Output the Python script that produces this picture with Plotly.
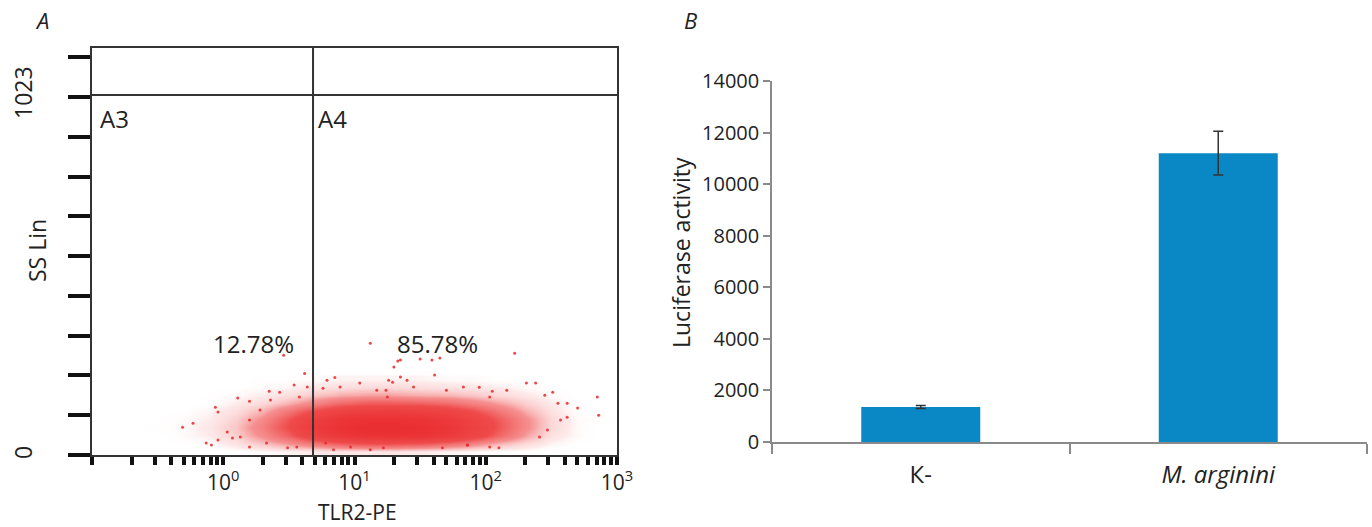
import numpy as np
import plotly.graph_objects as go

W, H = 1372, 527

# ---------------- Panel A data (flow cytometry) ----------------
# density grid: x = log10(TLR2-PE), y = SS Lin
grid_x_log = [-0.5, -0.3, -0.1, 0.1, 0.3, 0.5, 0.7, 0.9, 1.1, 1.3, 1.5, 1.7, 1.9, 2.1, 2.3, 2.5, 2.7, 2.9]
grid_y = [10, 30, 50, 70, 90, 110, 130, 150, 170, 190]
density = [
    [0, 0, 0, 1, 2, 3, 4, 5, 5, 5, 4, 3, 2, 1, 1, 0, 0, 0],
    [0, 1, 2, 6, 12, 20, 30, 40, 45, 45, 42, 35, 25, 15, 8, 3, 1, 0],
    [0, 2, 4, 10, 22, 38, 62, 82, 90, 92, 90, 78, 58, 36, 18, 6, 2, 0],
    [1, 2, 5, 12, 26, 46, 75, 92, 98, 98, 95, 85, 65, 42, 22, 8, 2, 0],
    [0, 2, 4, 10, 22, 42, 68, 85, 92, 92, 88, 78, 60, 40, 22, 8, 2, 1],
    [0, 1, 3, 7, 15, 30, 48, 62, 68, 70, 66, 60, 46, 30, 16, 6, 1, 0],
    [0, 0, 1, 4, 8, 15, 25, 35, 40, 40, 38, 34, 26, 18, 10, 4, 1, 0],
    [0, 0, 1, 2, 4, 7, 12, 16, 18, 18, 16, 15, 12, 8, 5, 2, 0, 0],
    [0, 0, 0, 1, 2, 3, 5, 7, 8, 8, 7, 6, 5, 4, 2, 1, 0, 0],
    [0, 0, 0, 0, 1, 1, 2, 3, 3, 3, 3, 2, 2, 1, 1, 0, 0, 0],
]
# individual events around the dense core (log10 x, SS Lin)
sparse_x_log = [0.46, 0.54, 0.11, -0.31, -0.23, -0.04, -0.04, -0.09, 0.49, 0.07, 1.12,
                2.22, 2.85, 2.86, 2.70, 2.38, 1.29, 1.30, 1.24, 1.35, 1.50, 1.59, 1.65, 1.61,
                2.10, 1.86, 1.33, 1.26, 1.40, 1.12, 0.97, 0.76, -0.06, 0.03, -0.13, 0.62,
                0.35, 0.20, 2.55, 2.62, 2.45, 0.85, 1.95, 2.05,
                0.20, 0.28, 0.36, 0.43, 0.58, 0.64, 0.13, 0.20, 0.33, 0.56,
                2.51, 2.62, 2.57, 2.47, 2.41, 2.31, 2.16, 2.03, 1.83, 1.70, 1.45, 1.35, 1.25,
                1.86, 2.03, 0.79, 0.89, 1.04, 1.17, 0.78, 0.84, 1.22, 1.67]
sparse_y = [251, 176, 143, 70, 80, 108, 38, 25, 18, 43, 281,
            256, 146, 100, 118, 181, 183, 221, 163, 239, 241, 239, 244, 201,
            18, 25, 236, 188, 188, 13, 20, 168, 120, 58, 30, 205,
            160, 135, 130, 95, 150, 195, 170, 160,
            88, 113, 138, 158, 146, 171, 45, 20, 30, 20,
            158, 130, 88, 63, 45, 181, 163, 146, 171, 163, 171, 196, 146,
            25, 20, 188, 171, 181, 163, 30, 13, 18, 18]

gate_x_log = 0.684     # vertical gate (~4.8)
gate_y = 905           # horizontal gate
ss_max = 1023
pct_left, pct_right = "12.78%", "85.78%"
decades = [0, 1, 2, 3]

# ---------------- Panel B data (luciferase) ----------------
categories = ["К-", "<i>M. arginini</i>"]
luciferase = [1360, 11200]
luciferase_err = [60, 850]

fig = go.Figure()

def px2fx(px):
    return px / W

def py2fy(py):
    return 1 - py / H

red_scale = [[0.0, "rgba(255,255,255,0)"], [0.04, "rgba(248,170,170,0.25)"],
             [0.2, "rgba(243,115,115,0.8)"], [0.45, "rgb(239,75,75)"], [1.0, "rgb(234,45,48)"]]

fig.add_trace(go.Heatmap(x=grid_x_log, y=grid_y, z=density, zsmooth="best",
                         colorscale=red_scale, zmin=0, zmax=100, showscale=False,
                         hoverinfo="skip", xaxis="x", yaxis="y"))
fig.add_trace(go.Scatter(x=sparse_x_log, y=sparse_y, mode="markers",
                         marker=dict(size=3, color="rgb(232,40,40)", opacity=0.85),
                         hoverinfo="skip", xaxis="x", yaxis="y", showlegend=False))

# gates
fig.add_trace(go.Scatter(x=[gate_x_log, gate_x_log], y=[0, ss_max], mode="lines",
                         line=dict(color="#333", width=2), xaxis="x", yaxis="y",
                         showlegend=False, hoverinfo="skip"))
fig.add_trace(go.Scatter(x=[-1, 3], y=[gate_y, gate_y], mode="lines",
                         line=dict(color="#333", width=2), xaxis="x", yaxis="y",
                         showlegend=False, hoverinfo="skip"))

# bars
fig.add_trace(go.Bar(x=categories, y=luciferase, width=0.4,
                     marker=dict(color="#0a88c6", line=dict(width=0)),
                     error_y=dict(type="data", array=luciferase_err, color="#333",
                                  thickness=1.5, width=5),
                     xaxis="x2", yaxis="y2", showlegend=False))

# ticks for panel A (log10 positions)
minor_a = [-1] + [d + np.log10(m) for d in [-1, 0, 1, 2] for m in range(2, 10)]
ticktext_a = ["10<sup>%d</sup>" % d for d in decades]

fontA = "Open Sans"
fontB = "Open Sans"
ink = "#222"

fig.update_layout(
    width=W, height=H, margin=dict(l=0, r=0, t=0, b=0, autoexpand=False),
    paper_bgcolor="white", plot_bgcolor="rgba(0,0,0,0)", showlegend=False,
    xaxis=dict(domain=[px2fx(92), px2fx(617)], range=[-1, 3], showgrid=False, zeroline=False,
               showline=True, mirror=True, linecolor="#333", linewidth=2,
               tickmode="array", tickvals=decades, ticktext=ticktext_a,
               ticks="outside", ticklen=8, tickwidth=4, tickcolor="#111",
               minor=dict(tickmode="array", tickvals=minor_a, ticks="outside", ticklen=8,
                          tickwidth=4, tickcolor="#111", showgrid=False),
               tickfont=dict(family=fontA, size=21, color=ink), ticklabelstandoff=0,
               automargin=False, anchor="y"),
    yaxis=dict(domain=[py2fy(455), py2fy(48)], range=[0, ss_max], showgrid=False, zeroline=False,
               showline=True, mirror=True, linecolor="#333", linewidth=2,
               tickmode="array", tickvals=list(range(0, 1001, 100)), showticklabels=False,
               ticks="outside", ticklen=22, tickwidth=4, tickcolor="#111",
               automargin=False, anchor="x"),
    xaxis2=dict(domain=[px2fx(772), px2fx(1367)], type="category", showgrid=False, zeroline=False,
                showline=True, linecolor="#8a8a8a", linewidth=1.5,
                ticks="outside", tickson="boundaries", ticklen=10, tickwidth=1.5, tickcolor="#8a8a8a",
                tickfont=dict(family=fontB, size=24, color=ink), ticklabelstandoff=10,
                automargin=False, anchor="y2"),
    yaxis2=dict(domain=[py2fy(442), py2fy(81)], range=[0, 14000], showgrid=False, zeroline=False,
                showline=True, linecolor="#8a8a8a", linewidth=1.5,
                tickmode="array", tickvals=list(range(0, 14001, 2000)), tickformat="d",
                ticks="outside", ticklen=7, tickwidth=1.5, tickcolor="#8a8a8a",
                tickfont=dict(family=fontB, size=20, color=ink),
                automargin=False, anchor="x2"),
)

ann = [
    dict(text="<i>A</i>", x=px2fx(42), y=py2fy(20), size=22, angle=0),
    dict(text="<i>B</i>", x=px2fx(690), y=py2fy(20), size=22, angle=0),
    dict(text="1023", x=px2fx(23), y=py2fy(93), size=23, angle=-90),
    dict(text="0", x=px2fx(23), y=py2fy(453), size=23, angle=-90),
    dict(text="SS Lin", x=px2fx(37), y=py2fy(251), size=23, angle=-90),
    dict(text="TLR2-PE", x=px2fx(357), y=py2fy(512), size=21, angle=0),
    dict(text="Luciferase activity", x=px2fx(681), y=py2fy(253), size=23, angle=-90),
]
for a in ann:
    fig.add_annotation(text=a["text"], x=a["x"], y=a["y"], xref="paper", yref="paper",
                       showarrow=False, xanchor="center", yanchor="middle", textangle=a["angle"],
                       borderpad=0, font=dict(family=fontA, size=a["size"], color=ink))

for txt, xv, yv, anchor in [("A3", -1 + 6 / 131.25, 845, "left"),
                            ("A4", gate_x_log + 3 / 131.25, 845, "left"),
                            (pct_left, 0.234, 281, "center"),
                            (pct_right, 1.63, 281, "center")]:
    fig.add_annotation(text=txt, x=xv, y=yv, xref="x", yref="y", showarrow=False,
                       xanchor=anchor, yanchor="middle",
                       font=dict(family=fontA, size=24, color=ink))

fig.write_html("out.html", config={"displayModeBar": False},
               post_script="document.body.style.margin='0px';document.body.style.overflow='hidden';")
